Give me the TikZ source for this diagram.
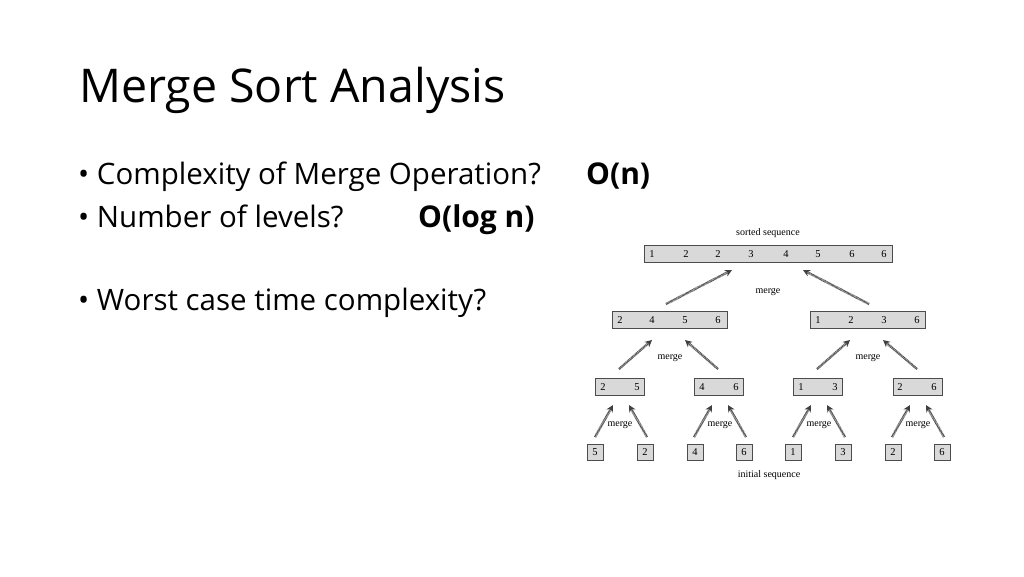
\documentclass[tikz,border=0pt]{standalone}
\usepackage{fontspec}
\setmainfont{Open Sans}
\newfontfamily\treefont{Liberation Serif}
\usetikzlibrary{arrows.meta}
\begin{document}
\begin{tikzpicture}[x=1pt,y=-1pt,
  title/.style={anchor=base west,inner sep=0pt,font=\fontsize{46.5}{50}\selectfont},
  bullet/.style={anchor=base west,inner sep=0pt,font=\fontsize{29.5}{32}\selectfont},
  ans/.style={anchor=base west,inner sep=0pt,font=\fontsize{30}{32}\selectfont\bfseries},
  seqbox/.style={draw=black!70,fill=black!15,line width=0.8pt,inner sep=0pt},
  num/.style={font=\treefont\fontsize{10.5}{12}\selectfont,inner sep=0pt},
  single/.style={seqbox,minimum width=16pt,minimum height=16.5pt,font=\treefont\fontsize{10.5}{12}\selectfont},
  lbl/.style={font=\treefont\fontsize{10}{12}\selectfont,inner sep=0pt},
  hatch/.style={draw=black!75,line width=2.4pt,dash pattern=on 0.6pt off 0.6pt,
     -{Stealth[length=7pt,width=7pt,fill=black!60]}}
]
\useasboundingbox (0,0) rectangle (1024,576);
\fill[white] (0,0) rectangle (1024,576);

\node[title] (t) at (79,102) {Merge Sort Analysis};
\node[bullet] (b1) at (78,184) {• Complexity of Merge Operation?};
\node[ans] (a1) at (586,184) {O(n)};
\node[bullet] (b2) at (78,227) {• Number of levels?};
\node[ans] (a2) at (418,227) {O(log n)};
\node[bullet] (b3) at (78,310) {• Worst case time complexity?};

% level 1 (sorted)
\node[seqbox,minimum width=248pt,minimum height=17pt] (top) at (768,253.5) {};
\foreach \x/\v in {652/1,686/2,718/2,751/3,786/4,818/5,852/6,884/6}
  \node[num] at (\x,254) {\v};
\node[lbl] (sorted) at (768,233) {sorted sequence};

% level 2
\node[seqbox,minimum width=115pt,minimum height=17pt] (l2a) at (669.5,319.5) {};
\foreach \x/\v in {620/2,652/4,685/5,718/6}
  \node[num] at (\x,320) {\v};
\node[seqbox,minimum width=115pt,minimum height=17pt] (l2b) at (867.5,319.5) {};
\foreach \x/\v in {818/1,851/2,884/3,917/6}
  \node[num] at (\x,320) {\v};

% level 3
\foreach \n/\c/\a/\b/\xa/\xb in {l3a/619.5/2/5/603/637, l3b/719/4/6/702/736, l3c/818/1/3/801/835, l3d/918/2/6/900/934}{
  \node[seqbox,minimum width=49pt,minimum height=16.5pt] (\n) at (\c,387) {};
  \node[num] at (\xa,387.5) {\a};
  \node[num] at (\xb,387.5) {\b};
}

% level 4
\foreach \n/\x/\v in {s1/595/5,s2/645/2,s3/695/4,s4/744/6,s5/793/1,s6/843/3,s7/893/2,s8/942/6}
  \node[single] (\n) at (\x,452.5) {\v};
\node[lbl] (initial) at (769,475) {initial sequence};

% merge labels
\node[lbl] (m1) at (768,292) {merge};
\node[lbl] (m2) at (670,358) {merge};
\node[lbl] (m3) at (868,358) {merge};
\foreach \x/\n in {620/m4,720/m5,819/m6,918/m7}
  \node[lbl] (\n) at (\x,425) {merge};

% arrows
\coordinate (p1s) at (666,304); \coordinate (p1e) at (732,270);
\coordinate (p2s) at (869,304); \coordinate (p2e) at (803,270);
\draw[hatch] (p1s) -- (p1e);
\draw[hatch] (p2s) -- (p2e);
\foreach \s/\e in {619/652, 718/685, 817/850, 917/883}{
  \coordinate (q\s) at (\s,369); \coordinate (r\s) at (\e,340);
  \draw[hatch] (q\s) -- (r\s);
}
\foreach \o in {0,99,198,297}{
  \coordinate (u\o) at (595+\o,437); \coordinate (v\o) at (613+\o,405);
  \draw[hatch] (u\o) -- (v\o);
  \coordinate (w\o) at (647+\o,437); \coordinate (z\o) at (629+\o,405);
  \draw[hatch] (w\o) -- (z\o);
}
\end{tikzpicture}
\end{document}
